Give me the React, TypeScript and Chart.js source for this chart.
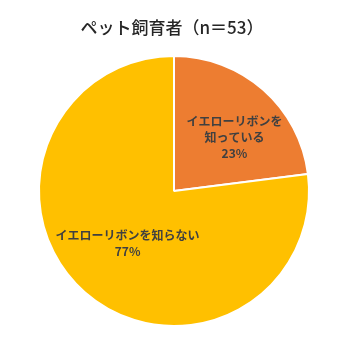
import React, { useEffect, useRef } from "react";
import { Chart, registerables } from "chart.js";

Chart.register(...registerables);

const titleText = "ペット飼育者（n＝53）";
const categories = ["イエローリボンを知っている", "イエローリボンを知らない"];
const values = [23, 77];
const labelLines = [
  ["イエローリボンを", "知っている", "23%"],
  ["イエローリボンを知らない", "77%"],
];
const colors = ["#ED7D31", "#FFC000"];
// label placement: angle shift (rad) from slice mid-angle and radius fraction
const labelAngleShift = [0.12, 0];
const labelRadiusFrac = [0.6, 0.52];

const FONT = '"Noto Sans CJK JP", "Noto Sans", sans-serif';

const labelPlugin = {
  id: "sliceLabels",
  afterDatasetsDraw(chart: any) {
    const ctx = chart.ctx;
    const meta = chart.getDatasetMeta(0);
    ctx.save();
    ctx.fillStyle = "#404040";
    ctx.font = `bold 12px ${FONT}`;
    ctx.textAlign = "center";
    ctx.textBaseline = "middle";
    meta.data.forEach((arc: any, i: number) => {
      const p = arc.getProps(["x", "y", "startAngle", "endAngle", "outerRadius"], true);
      const mid = (p.startAngle + p.endAngle) / 2 + labelAngleShift[i];
      const r = p.outerRadius * labelRadiusFrac[i];
      const cx = p.x + Math.cos(mid) * r;
      const cy = p.y + Math.sin(mid) * r;
      const lines = labelLines[i];
      const lh = 16;
      lines.forEach((ln, j) => {
        ctx.fillText(ln, cx, cy + (j - (lines.length - 1) / 2) * lh);
      });
    });
    ctx.restore();
  },
};

const titlePlugin = {
  id: "customTitle",
  afterDraw(chart: any) {
    const ctx = chart.ctx;
    ctx.save();
    ctx.fillStyle = "#262626";
    ctx.font = `500 17px ${FONT}`;
    ctx.textAlign = "center";
    ctx.textBaseline = "middle";
    ctx.fillText(titleText, 172, 28);
    ctx.restore();
  },
};

export default function App() {
  const ref = useRef<HTMLCanvasElement | null>(null);
  useEffect(() => {
    if (!ref.current) return;
    const chart = new Chart(ref.current, {
      type: "pie",
      data: {
        labels: categories,
        datasets: [
          {
            data: values,
            backgroundColor: colors,
            borderColor: "#ffffff",
            borderWidth: 2,
          },
        ],
      },
      options: {
        animation: false,
        responsive: false,
        layout: { padding: { top: 55, bottom: 23, left: 38, right: 40 } },
        plugins: {
          legend: { display: false },
          title: { display: false },
          tooltip: { enabled: false },
        },
      },
      plugins: [labelPlugin, titlePlugin],
    });
    return () => chart.destroy();
  }, []);
  return (
    <div style={{ position: "fixed", left: 0, top: 0, width: 350, height: 350, background: "#fff" }}>
      <canvas ref={ref} width={350} height={350} style={{ width: 350, height: 350 }} />
    </div>
  );
}
